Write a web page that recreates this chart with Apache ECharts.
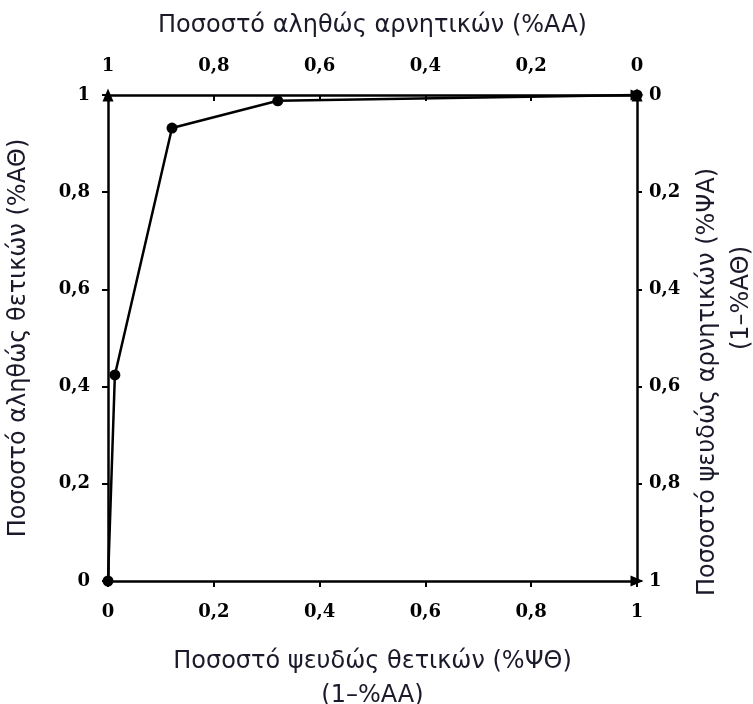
<!DOCTYPE html>
<html><head><meta charset="utf-8">
<script src="https://cdn.jsdelivr.net/npm/echarts@6/dist/echarts.min.js"></script>
<style>html,body{margin:0;padding:0;background:#fff}#c{width:753px;height:704px}</style>
</head><body><div id="c"></div>
<script>
// ROC curve data: false positive rate (x), true positive rate (y)
const fpr = [0, 0.013, 0.121, 0.321, 1];
const tpr = [0, 0.424, 0.932, 0.988, 1];
const tickValues = [0, 0.2, 0.4, 0.6, 0.8, 1];
const bottomName = 'Ποσοστό ψευδώς θετικών (%ΨΘ)\n(1–%AA)';
const topName = 'Ποσοστό αληθώς αρνητικών (%AA)';
const leftName = 'Ποσοστό αληθώς θετικών (%AΘ)';
const rightNameMain = 'Ποσοστό ψευδώς αρνητικών (%ΨA)';
const rightNameSub = '(1–%AΘ)';

const fmt = v => String(+v.toFixed(2)).replace('.', ',');
const labelStyle = {fontFamily: 'DejaVu Serif', fontWeight: 'bold', fontSize: 18, color: '#000', formatter: fmt};
const nameStyle = {fontFamily: 'DejaVu Sans', fontSize: 24, color: '#1a1a2a', lineHeight: 34};
const lineStyle = {color: '#000', width: 2.5};
const arrow = {show: true, lineStyle: lineStyle, symbol: ['none', 'triangle'], symbolSize: [11, 13]};

const chart = echarts.init(document.getElementById('c'));
chart.setOption({
  animation: false,
  grid: {left: 108, right: 116, top: 95, bottom: 123, containLabel: false, outerBoundsMode: 'none'},
  xAxis: [
    {type: 'value', position: 'bottom', min: 0, max: 1, interval: 0.2,
     axisLine: arrow, splitLine: {show: false},
     axisTick: {show: true, inside: false, length: 6, lineStyle: {color: '#000', width: 2}},
     axisLabel: Object.assign({margin: 22}, labelStyle),
     name: bottomName, nameLocation: 'middle', nameGap: 64, nameTextStyle: nameStyle},
    {type: 'value', position: 'top', min: 0, max: 1, interval: 0.2, inverse: true,
     axisLine: arrow, splitLine: {show: false},
     axisTick: {show: true, inside: true, length: 6, lineStyle: {color: '#000', width: 2}},
     axisLabel: Object.assign({margin: 20}, labelStyle),
     name: topName, nameLocation: 'middle', nameGap: 52, nameTextStyle: nameStyle}
  ],
  yAxis: [
    {type: 'value', position: 'left', min: 0, max: 1, interval: 0.2,
     axisLine: arrow, splitLine: {show: false},
     axisTick: {show: true, inside: false, length: 6, lineStyle: {color: '#000', width: 2}},
     axisLabel: Object.assign({margin: 18}, labelStyle),
     name: leftName, nameLocation: 'middle', nameGap: 72, nameRotate: 90, nameTextStyle: nameStyle},
    {type: 'value', position: 'right', min: 0, max: 1, interval: 0.2, inverse: true,
     axisLine: arrow, splitLine: {show: false},
     axisTick: {show: true, inside: false, length: 5, lineStyle: {color: '#000', width: 2}},
     axisLabel: Object.assign({margin: 12}, labelStyle),
     name: '{a|' + rightNameMain + '}\n{b|' + rightNameSub + '}',
     nameLocation: 'middle', nameGap: 48, nameRotate: 90,
     nameTextStyle: Object.assign({}, nameStyle, {
       rich: {
         a: {fontFamily: 'DejaVu Sans', fontSize: 24, color: '#1a1a2a', lineHeight: 34, padding: [0, 88, 0, 0]},
         b: {fontFamily: 'DejaVu Sans', fontSize: 24, color: '#1a1a2a', lineHeight: 34, padding: [0, 0, 0, 80]}
       }
     })}
  ],
  series: [{
    type: 'line', xAxisIndex: 0, yAxisIndex: 0,
    data: fpr.map((x, i) => [x, tpr[i]]),
    symbol: 'circle', symbolSize: 11,
    itemStyle: {color: '#000'},
    lineStyle: {color: '#000', width: 2.5},
    clip: false
  }]
});
</script></body></html>
